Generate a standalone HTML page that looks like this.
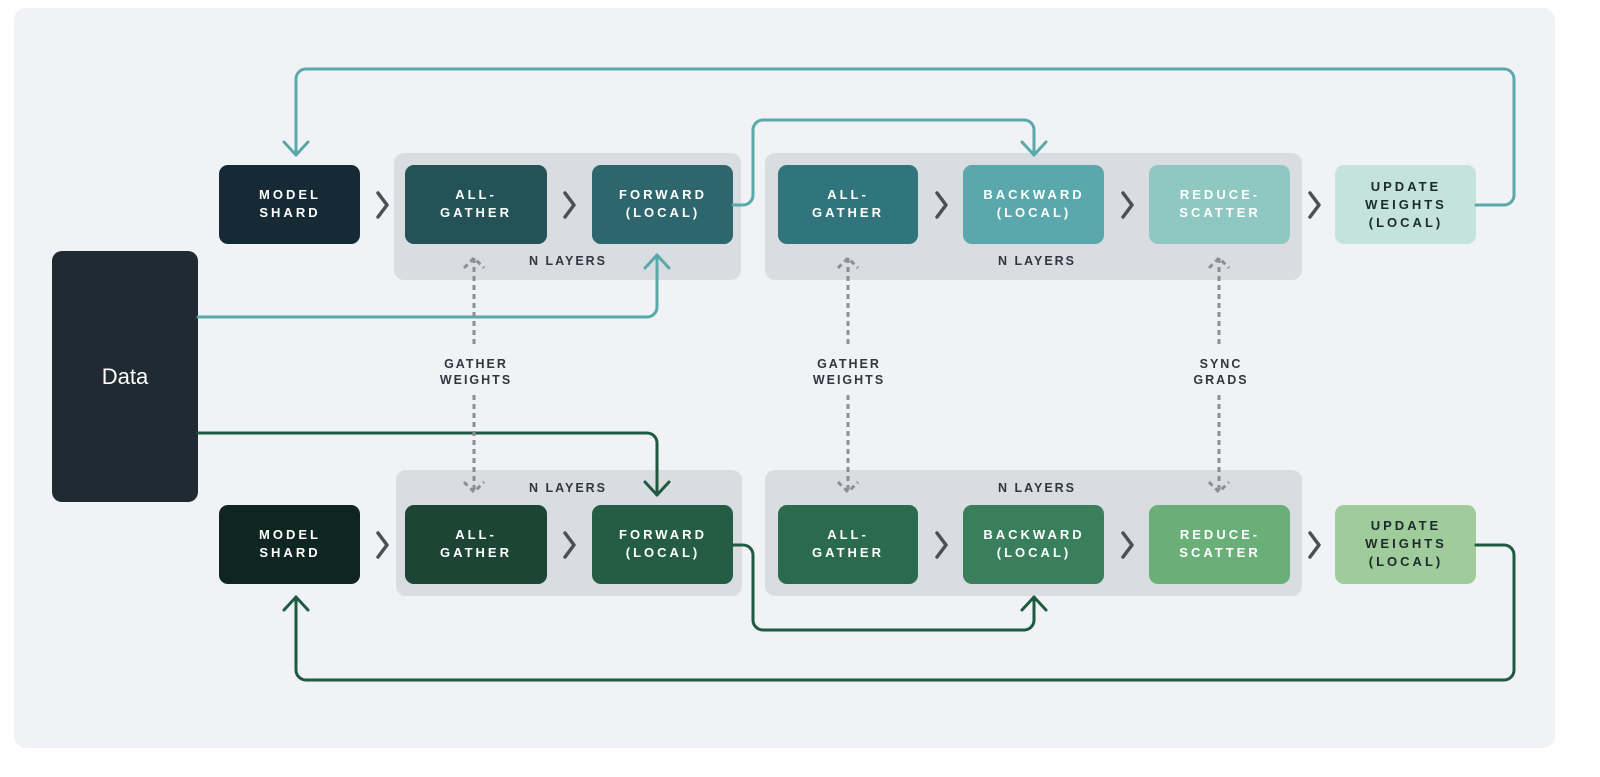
<!DOCTYPE html>
<html><head><meta charset="utf-8"><style>
html,body{margin:0;padding:0;background:#fff;overflow:hidden;width:1600px;height:777px;}
svg{display:block;font-family:"Liberation Sans",sans-serif;position:absolute;left:0;top:0;}
.b{font-size:13px;font-weight:700;letter-spacing:3px;text-anchor:middle;fill:#fff;}
.d{fill:#1c2a2e;}
.l{font-size:12.5px;font-weight:700;letter-spacing:2px;text-anchor:middle;fill:#2f3740;}
</style></head><body>
<svg width="1600" height="777" viewBox="0 0 1600 777">
<rect x="14" y="8" width="1541" height="740" rx="12" fill="#f0f2f6"/>
<g fill="#d9dde2">
<rect x="394" y="153" width="347" height="127" rx="10"/>
<rect x="765" y="153" width="537" height="127" rx="10"/>
<rect x="396" y="470" width="346" height="126" rx="10"/>
<rect x="765" y="470" width="537" height="126" rx="10"/>
</g>
<text class="l" x="568" y="265">N LAYERS</text>
<text class="l" x="1037" y="265">N LAYERS</text>
<text class="l" x="568" y="492">N LAYERS</text>
<text class="l" x="1037" y="492">N LAYERS</text>
<rect x="52" y="251" width="146" height="251" rx="10" fill="#1f2a33"/>
<text x="125" y="384" font-size="22" fill="#fff" text-anchor="middle">Data</text>
<g>
<rect x="219" y="165" width="141" height="79" rx="9" fill="#152a35"/>
<rect x="405" y="165" width="142" height="79" rx="9" fill="#245357"/>
<rect x="592" y="165" width="141" height="79" rx="9" fill="#2e666d"/>
<rect x="778" y="165" width="140" height="79" rx="9" fill="#2f757b"/>
<rect x="963" y="165" width="141" height="79" rx="9" fill="#5aa8ab"/>
<rect x="1149" y="165" width="141" height="79" rx="9" fill="#8fc7c1"/>
<rect x="1335" y="165" width="141" height="79" rx="9" fill="#c4e3dc"/>
</g>
<text class="b" x="290" y="199">MODEL</text><text class="b" x="290" y="217">SHARD</text>
<text class="b" x="476" y="199">ALL-</text><text class="b" x="476" y="217">GATHER</text>
<text class="b" x="663" y="199">FORWARD</text><text class="b" x="663" y="217">(LOCAL)</text>
<text class="b" x="848" y="199">ALL-</text><text class="b" x="848" y="217">GATHER</text>
<text class="b" x="1034" y="199">BACKWARD</text><text class="b" x="1034" y="217">(LOCAL)</text>
<text class="b" x="1220" y="199">REDUCE-</text><text class="b" x="1220" y="217">SCATTER</text>
<text class="b d" x="1406" y="191">UPDATE</text><text class="b d" x="1406" y="209">WEIGHTS</text><text class="b d" x="1406" y="227">(LOCAL)</text>
<g>
<rect x="219" y="505" width="141" height="79" rx="9" fill="#0f2520"/>
<rect x="405" y="505" width="142" height="79" rx="9" fill="#1c4535"/>
<rect x="592" y="505" width="141" height="79" rx="9" fill="#245c44"/>
<rect x="778" y="505" width="140" height="79" rx="9" fill="#2a6a4d"/>
<rect x="963" y="505" width="141" height="79" rx="9" fill="#3a7f5c"/>
<rect x="1149" y="505" width="141" height="79" rx="9" fill="#6aaf77"/>
<rect x="1335" y="505" width="141" height="79" rx="9" fill="#9fcc9a"/>
</g>
<text class="b" x="290" y="539">MODEL</text><text class="b" x="290" y="557">SHARD</text>
<text class="b" x="476" y="539">ALL-</text><text class="b" x="476" y="557">GATHER</text>
<text class="b" x="663" y="539">FORWARD</text><text class="b" x="663" y="557">(LOCAL)</text>
<text class="b" x="848" y="539">ALL-</text><text class="b" x="848" y="557">GATHER</text>
<text class="b" x="1034" y="539">BACKWARD</text><text class="b" x="1034" y="557">(LOCAL)</text>
<text class="b" x="1220" y="539">REDUCE-</text><text class="b" x="1220" y="557">SCATTER</text>
<text class="b d" x="1406" y="530">UPDATE</text><text class="b d" x="1406" y="548">WEIGHTS</text><text class="b d" x="1406" y="566">(LOCAL)</text>
<g fill="none" stroke="#4a5058" stroke-width="3.5" stroke-linecap="round" stroke-linejoin="round">
<path d="M378 193l9 12-9 12M565 193l9 12-9 12M937 193l9 12-9 12M1123 193l9 12-9 12M1310 193l9 12-9 12"/>
<path d="M378 533l9 12-9 12M565 533l9 12-9 12M937 533l9 12-9 12M1123 533l9 12-9 12M1310 533l9 12-9 12"/>
</g>
<g fill="none" stroke="#5aa9a9" stroke-width="3" stroke-linejoin="round" stroke-linecap="round">
<path d="M1476 205H1504a10 10 0 0 0 10-10V79a10 10 0 0 0-10-10H306a10 10 0 0 0-10 10V155"/>
<path d="M284 142l12 13 12-13"/>
<path d="M733 205h10a10 10 0 0 0 10-10V130a10 10 0 0 1 10-10H1024a10 10 0 0 1 10 10V155"/>
<path d="M1022 142l12 13 12-13"/>
<path d="M198 317H647a10 10 0 0 0 10-10V255"/>
<path d="M645 268l12-13 12 13"/>
</g>
<g fill="none" stroke="#1e5a40" stroke-width="3" stroke-linejoin="round" stroke-linecap="round">
<path d="M198 433H647a10 10 0 0 1 10 10V495"/>
<path d="M645 482l12 13 12-13"/>
<path d="M733 545h10a10 10 0 0 1 10 10V620a10 10 0 0 0 10 10H1024a10 10 0 0 0 10-10V597"/>
<path d="M1022 610l12-13 12 13"/>
<path d="M1476 545H1504a10 10 0 0 1 10 10V670a10 10 0 0 1-10 10H306a10 10 0 0 1-10-10V597"/>
<path d="M284 610l12-13 12 13"/>
</g>
<g fill="none" stroke="#8a8f96" stroke-width="3" stroke-dasharray="5 4">
<path d="M474 258V345M474 395V490M848 258V345M848 395V490M1219 258V345M1219 395V490"/>
<path d="M464 268l10-10 10 10M838 268l10-10 10 10M1209 268l10-10 10 10"/>
<path d="M464 482l10 10 10-10M838 482l10 10 10-10M1209 482l10 10 10-10"/>
</g>
<text class="l" x="476" y="368">GATHER</text><text class="l" x="476" y="384">WEIGHTS</text>
<text class="l" x="849" y="368">GATHER</text><text class="l" x="849" y="384">WEIGHTS</text>
<text class="l" x="1221" y="368">SYNC</text><text class="l" x="1221" y="384">GRADS</text>
</svg>
</body></html>
